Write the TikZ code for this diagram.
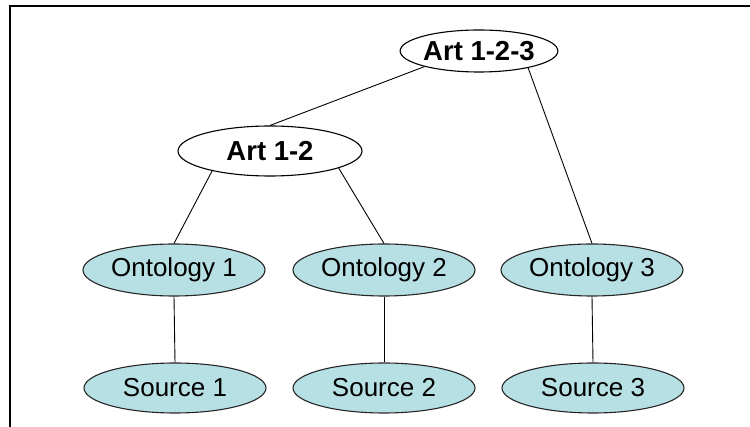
\documentclass[tikz,border=0pt]{standalone}
\usepackage{fontspec}
\setmainfont{Liberation Sans}
\usetikzlibrary{shapes.geometric}
\definecolor{ontofill}{RGB}{183,224,228}
\tikzset{
  artnode/.style={ellipse, draw=black, line width=1.1pt, fill=white, inner sep=0pt,
    font=\fontsize{27.5}{30}\selectfont\bfseries},
  ontonode/.style={ellipse, draw=black!85, line width=1.1pt, fill=ontofill, inner sep=0pt,
    minimum width=182pt, minimum height=52pt, font=\fontsize{26}{30}\selectfont},
  link/.style={draw=black, line width=0.9pt},
  frame/.style={draw=black, line width=2.2pt}
}
\begin{document}
\begin{tikzpicture}[x=1pt, y=-1pt]
  \useasboundingbox (0,0) rectangle (750,427);
  % outer frame: top and left rules
  \coordinate (ftl) at (10,6);
  \coordinate (ftr) at (750,6);
  \coordinate (fbl) at (10,427);
  \draw[frame] (ftr) -- (ftl) -- (fbl);

  % articulation nodes
  \node[artnode, minimum width=157pt, minimum height=42pt] (a123) at (479,51) {Art 1-2-3};
  \node[artnode, minimum width=184pt, minimum height=50pt] (a12) at (270,151) {Art 1-2};

  % ontologies
  \node[ontonode] (o1) at (174,270) {Ontology 1};
  \node[ontonode] (o2) at (384,270) {Ontology 2};
  \node[ontonode] (o3) at (592,270) {Ontology 3};

  % sources
  \node[ontonode, minimum height=50pt] (s1) at (175,388) {Source 1};
  \node[ontonode, minimum height=50pt] (s2) at (384,388) {Source 2};
  \node[ontonode, minimum height=50pt] (s3) at (593,388) {Source 3};

  % connectors
  \draw[link] (a123.196) -- (a12.north);
  \draw[link] (a123.-19) -- (o3.north);
  \draw[link] (a12.199) -- (o1.north);
  \draw[link] (a12.-14) -- (o2.north);
  \draw[link] (o1.south) -- (s1.north);
  \draw[link] (o2.south) -- (s2.north);
  \draw[link] (o3.south) -- (s3.north);
\end{tikzpicture}
\end{document}
